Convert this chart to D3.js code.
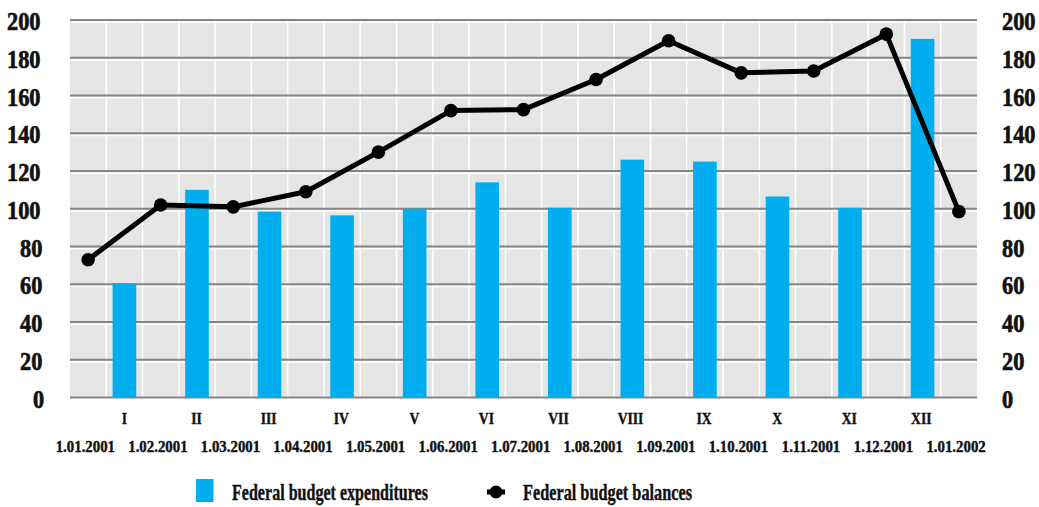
<!DOCTYPE html>
<html>
<head>
<meta charset="utf-8">
<script src="https://cdn.jsdelivr.net/npm/d3@7"></script>
<style>
  html, body { margin: 0; padding: 0; background: #fff; }
  svg { display: block; font-family: 'Liberation Serif', serif; }
</style>
</head>
<body>
<svg id="chart" width="1039" height="507"></svg>
<script>
// Monthly categories (bars) and month-start dates (balance points)
const months = ["I", "II", "III", "IV", "V", "VI", "VII", "VIII", "IX", "X", "XI", "XII"];
const dates = ["1.01.2001", "1.02.2001", "1.03.2001", "1.04.2001", "1.05.2001", "1.06.2001",
               "1.07.2001", "1.08.2001", "1.09.2001", "1.10.2001", "1.11.2001", "1.12.2001", "1.01.2002"];
const expenditures = [60.5, 110, 98.5, 96.5, 100, 114, 100.5, 126, 125, 106.5, 100.5, 190];
const balances = [73, 102, 101, 109, 130, 152, 152.5, 168.5, 189, 172, 173, 192.5, 98.5];
const yTicks = [0, 20, 40, 60, 80, 100, 120, 140, 160, 180, 200];
const legendLabels = ["Federal budget expenditures", "Federal budget balances"];

const FONT = "Liberation Serif, serif";
const INK = "#111";
const svg = d3.select("#chart");
const plotL = 70, plotR = 977, plotT = 20, plotB = 397.5;

// x in month units: points sit at i + 0.25, bars at i + 0.75
const x = d3.scaleLinear().domain([0, 12.5]).range([plotL, plotR]);
const y = d3.scaleLinear().domain([0, 200]).range([plotB, plotT]);

// plot background
svg.append("rect")
  .attr("x", plotL).attr("y", plotT)
  .attr("width", plotR - plotL).attr("height", plotB - plotT)
  .attr("fill", "#e5e5e5");

// white minor grid: vertical every half month, horizontal just under each major line
const halfSteps = d3.range(1, 25).map(k => k / 2);
svg.append("g").selectAll("line").data(halfSteps).join("line")
  .attr("x1", d => x(d)).attr("x2", d => x(d))
  .attr("y1", plotT).attr("y2", plotB)
  .attr("stroke", "#fff").attr("stroke-width", 1.5);
svg.append("g").selectAll("line").data(yTicks.slice(1)).join("line")
  .attr("x1", plotL).attr("x2", plotR)
  .attr("y1", d => y(d) + 2.2).attr("y2", d => y(d) + 2.2)
  .attr("stroke", "#fff").attr("stroke-width", 1.5);

// major horizontal grid
svg.append("g").selectAll("line").data(yTicks).join("line")
  .attr("x1", plotL).attr("x2", plotR)
  .attr("y1", d => y(d)).attr("y2", d => y(d))
  .attr("stroke", "#858585").attr("stroke-width", 2);

// bars
const barW = 23.6;
svg.append("g").selectAll("rect").data(expenditures).join("rect")
  .attr("x", (d, i) => x(i + 0.75) - barW / 2)
  .attr("y", d => y(d))
  .attr("width", barW)
  .attr("height", d => y(0) - y(d))
  .attr("fill", "#00aeef");

// balance line with markers
const line = d3.line().x((d, i) => x(i + 0.25)).y(d => y(d));
svg.append("path").datum(balances)
  .attr("d", line)
  .attr("fill", "none").attr("stroke", "#000")
  .attr("stroke-width", 5).attr("stroke-linejoin", "round");
svg.append("g").selectAll("circle").data(balances).join("circle")
  .attr("cx", (d, i) => x(i + 0.25)).attr("cy", d => y(d))
  .attr("r", 6.8).attr("fill", "#000");

// condensed look for the heavy serif labels
function condense(sel, sx) {
  sel.each(function () {
    const t = d3.select(this);
    const bb = this.getBBox();
    const anchor = t.attr("text-anchor") || "start";
    let ax = bb.x;
    if (anchor === "end") ax = bb.x + bb.width;
    else if (anchor === "middle") ax = bb.x + bb.width / 2;
    t.attr("transform", `translate(${ax},0) scale(${sx},1) translate(${-ax},0)`);
  });
}

function axisFont(g, size, weight) {
  g.attr("font-family", FONT).attr("font-size", size).attr("font-weight", "bold");
  g.select(".domain").remove();
  g.selectAll("text").attr("dy", null).attr("fill", INK)
    .attr("stroke", INK).attr("stroke-width", weight);
}

// value axes, left and right
const yAxisL = svg.append("g").attr("transform", `translate(${plotL - 24},0)`)
  .call(d3.axisLeft(y).tickValues(yTicks).tickSize(0).tickPadding(0));
const yAxisR = svg.append("g").attr("transform", `translate(${plotR + 25},0)`)
  .call(d3.axisRight(y).tickValues(yTicks).tickSize(0).tickPadding(0));
[yAxisL, yAxisR].forEach(g => {
  axisFont(g, 26, 0.7);
  const t = g.selectAll("text").attr("y", 9.5);
  condense(t, 0.86);
});

// month numerals under the bars
const monthAxis = svg.append("g").attr("transform", `translate(0,${plotB})`)
  .call(d3.axisBottom(x).tickValues(months.map((m, i) => i + 0.75))
    .tickFormat((d, i) => months[i]).tickSize(0).tickPadding(0));
axisFont(monthAxis, 16, 0.4);
condense(monthAxis.selectAll("text").attr("y", 26.5), 0.85);

// dates under the balance points
const dateAxis = svg.append("g").attr("transform", `translate(0,${plotB})`)
  .call(d3.axisBottom(x).tickValues(dates.map((m, i) => i + 0.25))
    .tickFormat((d, i) => dates[i]).tickSize(0).tickPadding(0));
axisFont(dateAxis, 16.5, 0.4);
condense(dateAxis.selectAll("text").attr("y", 54.5), 0.9);

// legend
const lg = svg.append("g").attr("font-family", FONT).attr("font-weight", "bold")
  .attr("font-size", 23).attr("fill", INK);
lg.append("rect").attr("x", 196).attr("y", 479).attr("width", 17.5).attr("height", 23).attr("fill", "#00aeef");
lg.append("text").attr("x", 232).attr("y", 500)
  .attr("textLength", 196).attr("lengthAdjust", "spacingAndGlyphs")
  .attr("stroke", INK).attr("stroke-width", 0.4)
  .text(legendLabels[0]);
lg.append("line").attr("x1", 487).attr("x2", 505).attr("y1", 492).attr("y2", 492)
  .attr("stroke", "#000").attr("stroke-width", 5);
lg.append("circle").attr("cx", 496).attr("cy", 492).attr("r", 6.5).attr("fill", "#000");
lg.append("text").attr("x", 523).attr("y", 500)
  .attr("textLength", 169).attr("lengthAdjust", "spacingAndGlyphs")
  .attr("stroke", INK).attr("stroke-width", 0.4)
  .text(legendLabels[1]);
</script>
</body>
</html>
